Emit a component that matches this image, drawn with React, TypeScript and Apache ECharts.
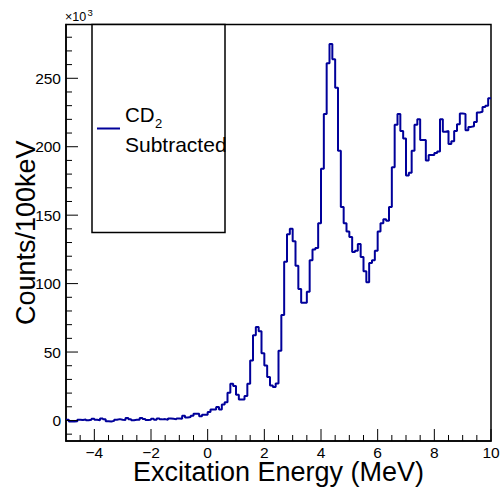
import React, { useEffect, useRef } from "react";
import * as echarts from "echarts";

// Histogram binning (MeV)
const binStart = -5;
const binWidth = 0.1;

// Counts per 100 keV bin, in units of 10^3
const counts = [
  0.5, -0.8, -0.8, -0.5, 0.5, 0.3, 0.8, 0.2, 0.5, 1.2,
  0.5, 0.2, 1.5, 0.8, -0.5, -0.8, -0.3, 0.5, 1.0, 0.5,
  0.3, 1.8, 0.8, 0.2, 0.5, 0.5, 1.8, 1.0, 0.3, 0.5,
  1.2, 0.5, 1.5, 0.8, 1.0, 0.5, 1.5, 1.2, 0.8, 1.5,
  1.2, 3.4, 2.2, 2.5, 3.4, 4.9, 4.9, 3.0, 4.1, 4.1,
  6.1, 8.0, 8.0, 9.8, 8.0, 11.7, 13.4, 20.2, 26.8, 25.1,
  18.8, 15.4, 15.4, 17.8, 26.8, 43.9, 62.2, 68.3, 65.1, 49.2,
  40.2, 31.7, 25.6, 24.4, 27, 51, 77, 116, 136, 140,
  131, 113, 96, 86, 86, 94, 117, 125, 126, 144,
  184, 224, 261, 275, 264, 243, 197, 156, 144, 138,
  134, 123, 124, 129, 119.5, 109, 101, 115, 117, 124,
  138, 144, 147, 146, 156, 185, 216, 224, 211.5, 206,
  179, 181, 197, 216, 220, 205, 205, 190, 194, 194,
  195.5, 196.5, 220, 211, 211.5, 202, 204, 211.5, 216.5, 224.3,
  224, 212, 214.5, 215, 218, 225, 225.5, 229, 230, 235.5,
];

const xMajorTicks = [-4, -2, 0, 2, 4, 6, 8, 10];
const xMinorTicks = [
  -4.5, -3.5, -3, -2.5, -1.5, -1, -0.5, 0.5, 1, 1.5, 2.5, 3,
  3.5, 4.5, 5, 5.5, 6.5, 7, 7.5, 8.5, 9, 9.5,
];
const yMajorTicks = [0, 50, 100, 150, 200, 250];
const yMinorTicks = [
  -10, 10, 20, 30, 40, 60, 70, 80, 90, 110, 120, 130, 140,
  160, 170, 180, 190, 210, 220, 230, 240, 260, 270, 280,
];

const xTitle = "Excitation Energy (MeV)";
const yTitle = "Counts/100keV";

const X_MIN = -5;
const X_MAX = 10;
const Y_MIN = -15;
const Y_MAX = 289.3;

const FONT = "'Liberation Sans', Arial, Helvetica, sans-serif";
const LINE_COLOR = "#00009a";

export default function App() {
  const ref = useRef<HTMLDivElement>(null);

  useEffect(() => {
    if (!ref.current) return;
    const chart = echarts.init(ref.current, undefined, { renderer: "svg" });

    const data: number[][] = counts.map((v, i) => [binStart + i * binWidth, v]);
    data.push([binStart + counts.length * binWidth, counts[counts.length - 1]]);

    // [position, tick length]
    const xTickData = [
      ...xMajorTicks.map((v) => [v, 12]),
      ...xMinorTicks.map((v) => [v, 6]),
    ];
    const yTickData = [
      ...yMajorTicks.map((v) => [v, 12]),
      ...yMinorTicks.map((v) => [v, 6]),
    ];

    const gl = 66, gt = 24.5, gw = 425, gh = 416.5;

    chart.setOption({
      animation: false,
      backgroundColor: "#ffffff",
      grid: {
        left: gl,
        top: gt,
        width: gw,
        height: gh,
        show: true,
        borderColor: "#000",
        borderWidth: 1.5,
        containLabel: false,
        outerBoundsMode: "none",
      },
      xAxis: {
        type: "value",
        min: X_MIN,
        max: X_MAX,
        position: "bottom",
        axisLine: { show: true, onZero: false, lineStyle: { color: "#000", width: 1.5 } },
        splitLine: { show: false },
        axisTick: { show: false },
        axisLabel: {
          show: true,
          customValues: xMajorTicks,
          margin: 3,
          color: "#000",
          fontSize: 15.5,
          fontFamily: FONT,
          formatter: (v: number) => String(v).replace("-", "\u2212"),
        },
      },
      yAxis: {
        type: "value",
        min: Y_MIN,
        max: Y_MAX,
        position: "left",
        axisLine: { show: true, onZero: false, lineStyle: { color: "#000", width: 1.5 } },
        splitLine: { show: false },
        axisTick: { show: false },
        axisLabel: {
          show: true,
          customValues: yMajorTicks,
          margin: 5,
          color: "#000",
          fontSize: 15.5,
          fontFamily: FONT,
        },
      },
      series: [
        {
          type: "line",
          name: "CD2 Subtracted",
          step: "end",
          data,
          showSymbol: false,
          symbol: "none",
          lineStyle: { color: LINE_COLOR, width: 2 },
          itemStyle: { color: LINE_COLOR },
          clip: true,
          z: 2,
        },
        {
          type: "custom",
          name: "xticks",
          silent: true,
          clip: false,
          z: 3,
          data: xTickData,
          renderItem: (_params: any, api: any) => {
            const p = api.coord([api.value(0), Y_MIN]);
            const len = api.value(1);
            return {
              type: "line",
              shape: { x1: p[0], y1: p[1], x2: p[0], y2: p[1] - len },
              style: { stroke: "#000", lineWidth: 1 },
            };
          },
        },
        {
          type: "custom",
          name: "yticks",
          silent: true,
          clip: false,
          z: 3,
          data: yTickData,
          renderItem: (_params: any, api: any) => {
            const p = api.coord([X_MIN, api.value(0)]);
            const len = api.value(1);
            return {
              type: "line",
              shape: { x1: p[0], y1: p[1], x2: p[0] + len, y2: p[1] },
              style: { stroke: "#000", lineWidth: 1 },
            };
          },
        },
      ],
      graphic: [
        {
          type: "text",
          x: gl + gw / 2,
          y: 471.5,
          style: {
            text: xTitle,
            fontSize: 27,
            fontFamily: FONT,
            fill: "#000",
            align: "center",
            verticalAlign: "middle",
          },
        },
        {
          type: "text",
          x: 25.5,
          y: gt + gh / 2,
          rotation: Math.PI / 2,
          style: {
            text: yTitle,
            fontSize: 27,
            fontFamily: FONT,
            fill: "#000",
            align: "center",
            verticalAlign: "middle",
          },
        },
        {
          type: "text",
          left: 65,
          top: 10,
          style: {
            text: "\u00d710",
            fontSize: 12.5,
            fontFamily: FONT,
            fill: "#000",
          },
        },
        {
          type: "text",
          left: 87.5,
          top: 7,
          style: {
            text: "3",
            fontSize: 9.5,
            fontFamily: FONT,
            fill: "#000",
          },
        },
        {
          type: "rect",
          shape: { x: 92, y: 24.5, width: 133, height: 208 },
          style: { fill: "#fff", stroke: "#000", lineWidth: 1.5 },
          z: 10,
        },
        {
          type: "line",
          shape: { x1: 97, y1: 128.5, x2: 120, y2: 128.5 },
          style: { stroke: LINE_COLOR, lineWidth: 2 },
          z: 11,
        },
        {
          type: "text",
          x: 125,
          y: 114.5,
          style: {
            text: "CD",
            fontSize: 20.5,
            fontFamily: FONT,
            fill: "#000",
            verticalAlign: "middle",
            align: "left",
          },
          z: 11,
        },
        {
          type: "text",
          x: 155,
          y: 123.5,
          style: {
            text: "2",
            fontSize: 13,
            fontFamily: FONT,
            fill: "#000",
            verticalAlign: "middle",
            align: "left",
          },
          z: 11,
        },
        {
          type: "text",
          x: 125,
          y: 144.2,
          style: {
            text: "Subtracted",
            fontSize: 21,
            fontFamily: FONT,
            fill: "#000",
            verticalAlign: "middle",
            align: "left",
          },
          z: 11,
        },
      ],
    });

    return () => chart.dispose();
  }, []);

  return (
    <div
      ref={ref}
      style={{ position: "absolute", left: 0, top: 0, width: 500, height: 492 }}
    />
  );
}
